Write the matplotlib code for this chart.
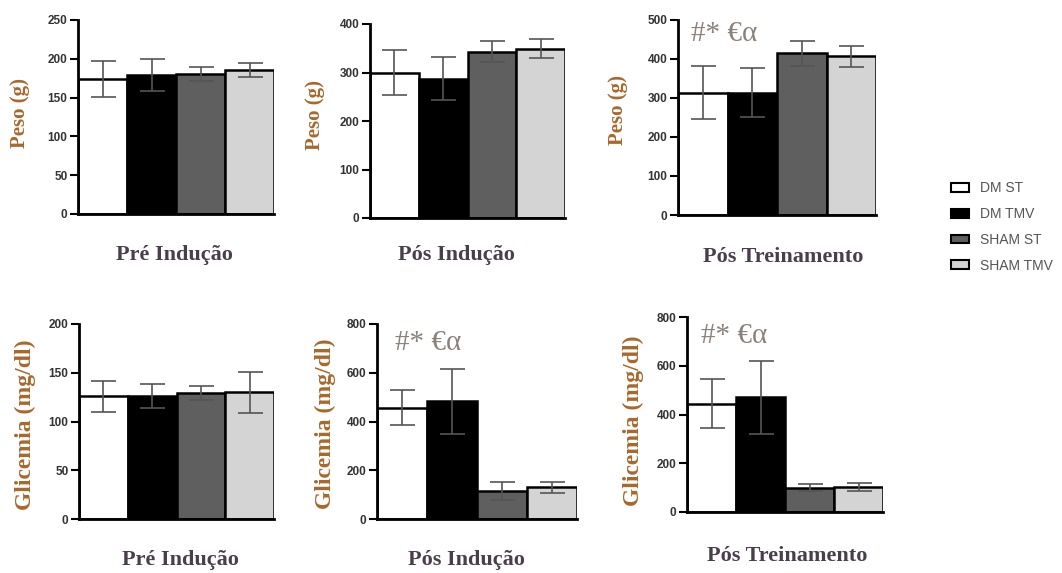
import matplotlib
matplotlib.use("Agg")
import matplotlib.pyplot as plt
from matplotlib.patches import Patch

groups = ["DM ST", "DM TMV", "SHAM ST", "SHAM TMV"]
bar_colors = ["#ffffff", "#000000", "#5f5f5f", "#d4d4d4"]

periods = ["Pré Indução", "Pós Indução", "Pós Treinamento"]

peso_pre = [174, 179, 180, 185]
peso_pre_err = [23, 21, 9, 9]
peso_pos = [300, 287, 343, 349]
peso_pos_err = [47, 44, 21, 20]
peso_trein = [314, 313, 415, 407]
peso_trein_err = [68, 63, 32, 27]

glic_pre = [126, 126, 129, 130]
glic_pre_err = [16, 12, 7, 21]
glic_pos = [457, 483, 113, 130]
glic_pos_err = [72, 133, 37, 22]
glic_trein = [444, 470, 100, 103]
glic_trein_err = [100, 150, 15, 17]

peso_ylim = [250, 400, 500]
peso_ticks = [[0, 50, 100, 150, 200, 250], [0, 100, 200, 300, 400], [0, 100, 200, 300, 400, 500]]
glic_ylim = [200, 800, 800]
glic_ticks = [[0, 50, 100, 150, 200], [0, 200, 400, 600, 800], [0, 200, 400, 600, 800]]

annot = "#* €α"

fig = plt.figure(figsize=(10.62, 5.73), dpi=100)
W, H = 1062, 573

def axes_px(x0, x1, ytop, ybot):
    return fig.add_axes([x0 / W, (H - ybot) / H, (x1 - x0) / W, (ybot - ytop) / H])

boxes = [
    (78, 274, 20, 214), (370, 565, 24, 218), (678, 876, 20, 215),
    (79, 274, 324, 519), (377, 577, 324, 519), (687, 883, 317, 512),
]
title_pos = [(174, 255), (456, 255), (783, 257), (180, 560), (466, 560), (787, 556)]
ylabel_pos = [(20, 113), (315, 115), (618, 110), (25, 425), (325, 424), (633, 421)]
ylabel_size = [15, 15, 15, 17, 17, 17]

data = [
    (peso_pre, peso_pre_err, peso_ylim[0], peso_ticks[0], "Peso (g)", None),
    (peso_pos, peso_pos_err, peso_ylim[1], peso_ticks[1], "Peso (g)", None),
    (peso_trein, peso_trein_err, peso_ylim[2], peso_ticks[2], "Peso (g)", (0.065, 0.93)),
    (glic_pre, glic_pre_err, glic_ylim[0], glic_ticks[0], "Glicemia (mg/dl)", None),
    (glic_pos, glic_pos_err, glic_ylim[1], glic_ticks[1], "Glicemia (mg/dl)", (0.09, 0.90)),
    (glic_trein, glic_trein_err, glic_ylim[2], glic_ticks[2], "Glicemia (mg/dl)", (0.07, 0.905)),
]
titles = periods + periods

label_color = "#a8682c"
title_color = "#4a3e4c"
annot_color = "#8a817a"

for i, (box, (vals, errs, ymax, ticks, ylab, ann)) in enumerate(zip(boxes, data)):
    ax = axes_px(*box)
    x = list(range(len(groups)))
    ax.bar(x, vals, width=1.0, color=bar_colors, edgecolor="black", linewidth=1.8, zorder=2)
    ax.errorbar(x, vals, yerr=errs, fmt="none", ecolor="#555555", elinewidth=1.2,
                capsize=9, capthick=1.2, zorder=3)
    ax.set_xlim(-0.5, 3.5)
    ax.set_ylim(0, ymax)
    ax.set_yticks(ticks)
    ax.set_xticks([])
    for s in ["top", "right"]:
        ax.spines[s].set_visible(False)
    for s in ["left", "bottom"]:
        ax.spines[s].set_linewidth(2)
    ax.tick_params(axis="y", length=6, width=1.5, labelsize=8.5, labelcolor="#333333", pad=1.5)
    for lbl in ax.get_yticklabels():
        lbl.set_fontweight("bold")
        lbl.set_fontfamily("Liberation Sans")
    lx, ly = ylabel_pos[i]
    fig.text(lx / W, (H - ly) / H, ylab, rotation=90, ha="center", va="center",
             family="Liberation Serif", fontweight="bold", fontsize=ylabel_size[i],
             color=label_color)
    if ann:
        ax.text(ann[0], ann[1], annot, transform=ax.transAxes, ha="left", va="center",
                family="Liberation Serif", fontsize=21, color=annot_color)
    tx, ty = title_pos[i]
    fig.text(tx / W, (H - ty) / H, titles[i], ha="center", va="center",
             family="Liberation Serif", fontweight="bold", fontsize=16, color=title_color)

handles = [Patch(facecolor=c, edgecolor="black", linewidth=1.5) for c in bar_colors]
leg = fig.legend(handles, groups, loc="center left", bbox_to_anchor=(938 / W, (H - 227) / H),
                 frameon=False, fontsize=10, handlelength=1.3, handleheight=0.6,
                 labelspacing=0.85, handletextpad=0.8)
for t in leg.get_texts():
    t.set_color("#555555")
    t.set_fontfamily("Liberation Sans")

fig.savefig("out.png", dpi=100)
